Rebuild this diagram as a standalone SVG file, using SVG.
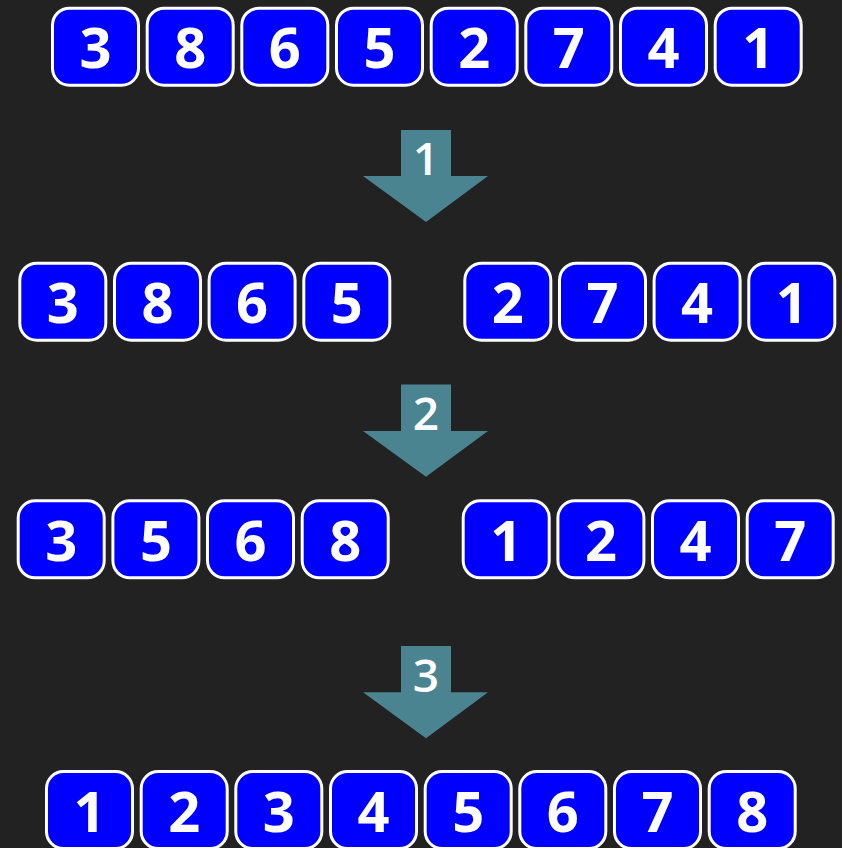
<svg xmlns="http://www.w3.org/2000/svg" width="842" height="848" viewBox="0 0 842 848">
<style>
.box rect{fill:#0000ff;stroke:#ffffff;stroke-width:3}
.box text{fill:#ffffff;font-family:"Open Sans","Noto Sans","DejaVu Sans",sans-serif;font-weight:bold;font-size:56px;text-anchor:middle}
.arrow path{fill:#4a8491}
.arrow text{fill:#ffffff;font-family:"Open Sans","Noto Sans","DejaVu Sans",sans-serif;font-weight:600;font-size:46px;text-anchor:middle}
</style>
<rect x="0" y="0" width="842" height="848" fill="#222222"/>
<g id="row1">
<g id="r1n1" class="box"><rect x="52.5" y="8.2" width="86" height="77" rx="17"/><text x="95.5" y="68.3">3</text></g>
<g id="r1n2" class="box"><rect x="147.2" y="8.2" width="86" height="77" rx="17"/><text x="190.2" y="68.3">8</text></g>
<g id="r1n3" class="box"><rect x="241.8" y="8.2" width="86" height="77" rx="17"/><text x="284.8" y="68.3">6</text></g>
<g id="r1n4" class="box"><rect x="336.5" y="8.2" width="86" height="77" rx="17"/><text x="379.5" y="68.3">5</text></g>
<g id="r1n5" class="box"><rect x="431.2" y="8.2" width="86" height="77" rx="17"/><text x="474.2" y="68.3">2</text></g>
<g id="r1n6" class="box"><rect x="525.8" y="8.2" width="86" height="77" rx="17"/><text x="568.8" y="68.3">7</text></g>
<g id="r1n7" class="box"><rect x="620.5" y="8.2" width="86" height="77" rx="17"/><text x="663.5" y="68.3">4</text></g>
<g id="r1n8" class="box"><rect x="715.2" y="8.2" width="86" height="77" rx="17"/><text x="758.2" y="68.3">1</text></g>
</g>
<g id="row2">
<g id="r2n1" class="box"><rect x="19.8" y="263.2" width="86" height="77" rx="17"/><text x="62.8" y="323.3">3</text></g>
<g id="r2n2" class="box"><rect x="114.5" y="263.2" width="86" height="77" rx="17"/><text x="157.5" y="323.3">8</text></g>
<g id="r2n3" class="box"><rect x="209.1" y="263.2" width="86" height="77" rx="17"/><text x="252.1" y="323.3">6</text></g>
<g id="r2n4" class="box"><rect x="303.8" y="263.2" width="86" height="77" rx="17"/><text x="346.8" y="323.3">5</text></g>
<g id="r2n5" class="box"><rect x="464.8" y="263.2" width="86" height="77" rx="17"/><text x="507.8" y="323.3">2</text></g>
<g id="r2n6" class="box"><rect x="559.5" y="263.2" width="86" height="77" rx="17"/><text x="602.5" y="323.3">7</text></g>
<g id="r2n7" class="box"><rect x="654.1" y="263.2" width="86" height="77" rx="17"/><text x="697.1" y="323.3">4</text></g>
<g id="r2n8" class="box"><rect x="748.8" y="263.2" width="86" height="77" rx="17"/><text x="791.8" y="323.3">1</text></g>
</g>
<g id="row3">
<g id="r3n1" class="box"><rect x="18.2" y="500.8" width="86" height="77" rx="17"/><text x="61.2" y="560.9">3</text></g>
<g id="r3n2" class="box"><rect x="112.9" y="500.8" width="86" height="77" rx="17"/><text x="155.9" y="560.9">5</text></g>
<g id="r3n3" class="box"><rect x="207.5" y="500.8" width="86" height="77" rx="17"/><text x="250.5" y="560.9">6</text></g>
<g id="r3n4" class="box"><rect x="302.2" y="500.8" width="86" height="77" rx="17"/><text x="345.2" y="560.9">8</text></g>
<g id="r3n5" class="box"><rect x="463.2" y="500.8" width="86" height="77" rx="17"/><text x="506.2" y="560.9">1</text></g>
<g id="r3n6" class="box"><rect x="557.9" y="500.8" width="86" height="77" rx="17"/><text x="600.9" y="560.9">2</text></g>
<g id="r3n7" class="box"><rect x="652.5" y="500.8" width="86" height="77" rx="17"/><text x="695.5" y="560.9">4</text></g>
<g id="r3n8" class="box"><rect x="747.2" y="500.8" width="86" height="77" rx="17"/><text x="790.2" y="560.9">7</text></g>
</g>
<g id="row4">
<g id="r4n1" class="box"><rect x="46.5" y="771.5" width="86" height="77" rx="17"/><text x="89.5" y="831.6">1</text></g>
<g id="r4n2" class="box"><rect x="141.2" y="771.5" width="86" height="77" rx="17"/><text x="184.2" y="831.6">2</text></g>
<g id="r4n3" class="box"><rect x="235.8" y="771.5" width="86" height="77" rx="17"/><text x="278.8" y="831.6">3</text></g>
<g id="r4n4" class="box"><rect x="330.5" y="771.5" width="86" height="77" rx="17"/><text x="373.5" y="831.6">4</text></g>
<g id="r4n5" class="box"><rect x="425.2" y="771.5" width="86" height="77" rx="17"/><text x="468.2" y="831.6">5</text></g>
<g id="r4n6" class="box"><rect x="519.8" y="771.5" width="86" height="77" rx="17"/><text x="562.8" y="831.6">6</text></g>
<g id="r4n7" class="box"><rect x="614.5" y="771.5" width="86" height="77" rx="17"/><text x="657.5" y="831.6">7</text></g>
<g id="r4n8" class="box"><rect x="709.2" y="771.5" width="86" height="77" rx="17"/><text x="752.2" y="831.6">8</text></g>
</g>
<g id="connectors">
<g id="step1" class="arrow"><path d="M401 130 H451 V176 H488 L426 222 L363 176 H401 Z"/><text x="426" y="175">1</text></g>
<g id="step2" class="arrow"><path d="M401 384.5 H451 V431 H488 L426 476.7 L363 431 H401 Z"/><text x="426" y="430">2</text></g>
<g id="step3" class="arrow"><path d="M401 646 H451 V692.3 H488 L426 738.3 L363 692.3 H401 Z"/><text x="426" y="692">3</text></g>
</g>
</svg>
